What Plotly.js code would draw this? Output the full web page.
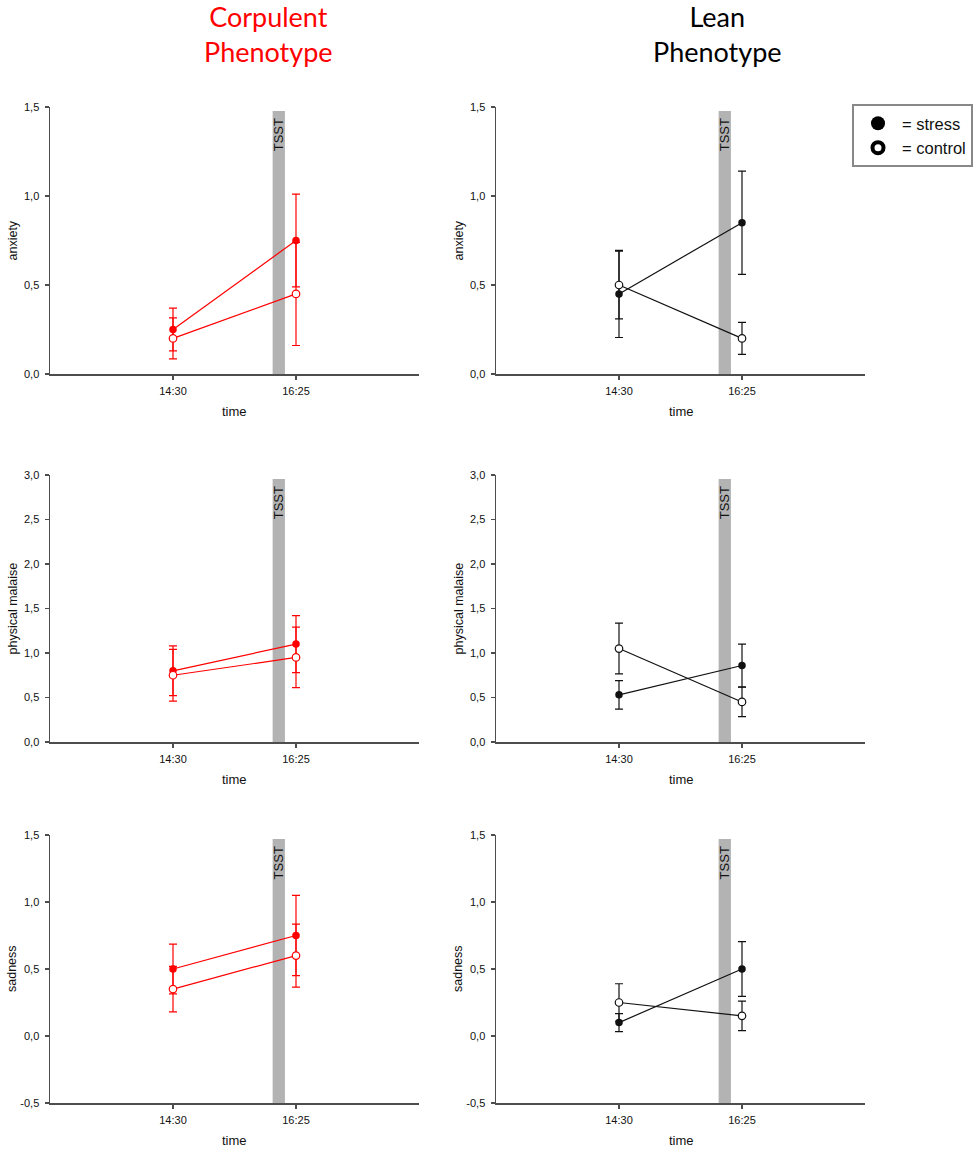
<!DOCTYPE html>
<html>
<head>
<meta charset="utf-8">
<script src="https://cdn.plot.ly/plotly-3.0.1.min.js"></script>
<style>html,body{margin:0;padding:0;background:#fff}#chart{width:978px;height:1149px}</style>
</head>
<body>
<div id="chart"></div>
<script>
// ---- data ----
const timeLabels = ['14:30', '16:25'];
const timePos = [1, 2];
const tsstStart = 1.81;
const tsstEnd = 1.91;

const corpAnxStress = [0.25, 0.75];   const corpAnxStressErr = [0.12, 0.26];
const corpAnxCtrl   = [0.20, 0.45];   const corpAnxCtrlErr   = [0.115, 0.29];
const leanAnxStress = [0.45, 0.85];   const leanAnxStressErr = [0.245, 0.29];
const leanAnxCtrl   = [0.50, 0.20];   const leanAnxCtrlErr   = [0.19, 0.09];

const corpMalStress = [0.80, 1.10];   const corpMalStressErr = [0.28, 0.32];
const corpMalCtrl   = [0.75, 0.95];   const corpMalCtrlErr   = [0.29, 0.34];
const leanMalStress = [0.53, 0.86];   const leanMalStressErr = [0.16, 0.24];
const leanMalCtrl   = [1.05, 0.45];   const leanMalCtrlErr   = [0.285, 0.165];

const corpSadStress = [0.50, 0.75];   const corpSadStressErr = [0.185, 0.30];
const corpSadCtrl   = [0.35, 0.60];   const corpSadCtrlErr   = [0.17, 0.235];
const leanSadStress = [0.10, 0.50];   const leanSadStressErr = [0.067, 0.205];
const leanSadCtrl   = [0.25, 0.15];   const leanSadCtrlErr   = [0.14, 0.11];

const anxTicks = [0, 0.5, 1.0, 1.5];
const anxTickLabels = ['0,0', '0,5', '1,0', '1,5'];
const malTicks = [0, 0.5, 1.0, 1.5, 2.0, 2.5, 3.0];
const malTickLabels = ['0,0', '0,5', '1,0', '1,5', '2,0', '2,5', '3,0'];
const sadTicks = [-0.5, 0, 0.5, 1.0, 1.5];
const sadTickLabels = ['-0,5', '0,0', '0,5', '1,0', '1,5'];

const groupTitles = ['Corpulent<br>Phenotype', 'Lean<br>Phenotype'];
const yTitles = ['anxiety', 'physical malaise', 'sadness'];
const legendLabels = ['= stress', '= control'];

// ---- layout helpers ----
const W = 978, H = 1149;
const RED = 'rgb(255,0,0)', BLK = '#111';
const AX = '#4d4d4d';
const colPx = [[50, 419], [496, 865]];
const rowPx = [[107, 374], [475, 742], [835, 1103]];
const xd = c => [colPx[c][0] / W, colPx[c][1] / W];
const yd = r => [1 - rowPx[r][1] / H, 1 - rowPx[r][0] / H];

const panels = [
  {r:0, c:0, color:RED, s:corpAnxStress, se:corpAnxStressErr, k:corpAnxCtrl, ke:corpAnxCtrlErr, range:[0,1.5], tv:anxTicks, tt:anxTickLabels},
  {r:0, c:1, color:BLK, s:leanAnxStress, se:leanAnxStressErr, k:leanAnxCtrl, ke:leanAnxCtrlErr, range:[0,1.5], tv:anxTicks, tt:anxTickLabels},
  {r:1, c:0, color:RED, s:corpMalStress, se:corpMalStressErr, k:corpMalCtrl, ke:corpMalCtrlErr, range:[0,3], tv:malTicks, tt:malTickLabels},
  {r:1, c:1, color:BLK, s:leanMalStress, se:leanMalStressErr, k:leanMalCtrl, ke:leanMalCtrlErr, range:[0,3], tv:malTicks, tt:malTickLabels},
  {r:2, c:0, color:RED, s:corpSadStress, se:corpSadStressErr, k:corpSadCtrl, ke:corpSadCtrlErr, range:[-0.5,1.5], tv:sadTicks, tt:sadTickLabels},
  {r:2, c:1, color:BLK, s:leanSadStress, se:leanSadStressErr, k:leanSadCtrl, ke:leanSadCtrlErr, range:[-0.5,1.5], tv:sadTicks, tt:sadTickLabels}
];

const traces = [];
const layout = {
  width: W, height: H,
  margin: {l:0, r:0, t:0, b:0},
  paper_bgcolor: '#fff', plot_bgcolor: 'rgba(0,0,0,0)',
  font: {family: '"Liberation Sans", Arial, sans-serif', color: '#111', size: 11},
  showlegend: true,
  legend: {
    x: 852 / W, y: 1 - 104 / H, xanchor: 'left', yanchor: 'top',
    bordercolor: '#888', borderwidth: 2, bgcolor: '#fff',
    itemwidth: 38,
    font: {size: 16.5, family: '"Liberation Sans", Arial, sans-serif', color: '#111'},
    tracegroupgap: 0
  },
  shapes: [], annotations: []
};

panels.forEach((p, i) => {
  const n = i + 1;
  const xa = 'x' + (n === 1 ? '' : n), ya = 'y' + (n === 1 ? '' : n);
  const xk = 'xaxis' + (n === 1 ? '' : n), yk = 'yaxis' + (n === 1 ? '' : n);
  layout[xk] = {
    domain: xd(p.c), anchor: ya, range: [0, 3],
    tickvals: timePos, ticktext: timeLabels,
    showline: true, linecolor: AX, linewidth: 1.5,
    ticks: 'outside', ticklen: 4, tickwidth: 1.2, tickcolor: AX,
    showgrid: false, zeroline: false, fixedrange: true,
    tickfont: {size: 11}, ticklabelstandoff: 2
  };
  layout[yk] = {
    domain: yd(p.r), anchor: xa, range: p.range,
    tickvals: p.tv, ticktext: p.tt,
    showline: true, linecolor: AX, linewidth: 1.5,
    ticks: 'outside', ticklen: 4, tickwidth: 1.2, tickcolor: AX,
    showgrid: false, zeroline: false, fixedrange: true,
    tickfont: {size: 11}, ticklabelstandoff: 3
  };
  // TSST bar
  layout.shapes.push({
    type: 'rect', xref: xa, yref: ya + ' domain', layer: 'below',
    x0: tsstStart, x1: tsstEnd, y0: 0, y1: 0.985,
    fillcolor: '#b3b3b3', line: {width: 0}
  });
  layout.annotations.push({
    xref: xa, yref: ya + ' domain', x: (tsstStart + tsstEnd) / 2, y: 0.897,
    text: 'TSST', textangle: -90, showarrow: false, xanchor: 'center', yanchor: 'middle',
    font: {size: 13, color: '#111'}
  });
  // axis titles
  layout.annotations.push({
    xref: 'paper', yref: 'paper', x: (p.c === 0 ? 12 : 458) / W,
    y: 1 - (rowPx[p.r][0] + rowPx[p.r][1]) / 2 / H,
    text: yTitles[p.r], textangle: -90, showarrow: false, xanchor: 'center', yanchor: 'middle',
    font: {size: 12.5}
  });
  layout.annotations.push({
    xref: 'paper', yref: 'paper', x: (p.c === 0 ? 234 : 681) / W,
    y: 1 - (rowPx[p.r][1] + 37) / H,
    text: 'time', showarrow: false, xanchor: 'center', yanchor: 'middle',
    font: {size: 13}
  });
  // stress
  traces.push({
    x: timePos, y: p.s, xaxis: xa, yaxis: ya, mode: 'lines+markers', type: 'scatter',
    showlegend: false, cliponaxis: false,
    line: {color: p.color, width: 1.2},
    marker: {color: p.color, size: 7.5, line: {width: 0}},
    error_y: {type: 'data', array: p.se, visible: true, color: p.color, thickness: 1.2, width: 4}
  });
  // control
  traces.push({
    x: timePos, y: p.k, xaxis: xa, yaxis: ya, mode: 'lines+markers', type: 'scatter',
    showlegend: false, cliponaxis: false,
    line: {color: p.color, width: 1.2},
    marker: {color: '#fff', size: 7.5, line: {width: 1.2, color: p.color}},
    error_y: {type: 'data', array: p.ke, visible: true, color: p.color, thickness: 1.2, width: 4}
  });
});

// legend entries
traces.push({x: [null], y: [null], mode: 'markers', type: 'scatter', name: legendLabels[0], xaxis: 'x2', yaxis: 'y2',
  marker: {color: '#000', size: 14, line: {width: 0}}});
traces.push({x: [null], y: [null], mode: 'markers', type: 'scatter', name: legendLabels[1], xaxis: 'x2', yaxis: 'y2',
  marker: {color: '#fff', size: 11, line: {width: 4, color: '#000'}}});

// group titles
layout.annotations.push({
  xref: 'paper', yref: 'paper', x: 268 / W, y: 1 - 34 / H, text: groupTitles[0],
  showarrow: false, xanchor: 'center', yanchor: 'middle',
  font: {family: 'Lato, "Open Sans", sans-serif', size: 27, color: 'rgb(255,0,0)'}
});
layout.annotations.push({
  xref: 'paper', yref: 'paper', x: 717 / W, y: 1 - 34 / H, text: groupTitles[1],
  showarrow: false, xanchor: 'center', yanchor: 'middle',
  font: {family: 'Lato, "Open Sans", sans-serif', size: 27, color: '#000'}
});

Plotly.newPlot('chart', traces, layout, {displayModeBar: false, staticPlot: true});
</script>
</body>
</html>
